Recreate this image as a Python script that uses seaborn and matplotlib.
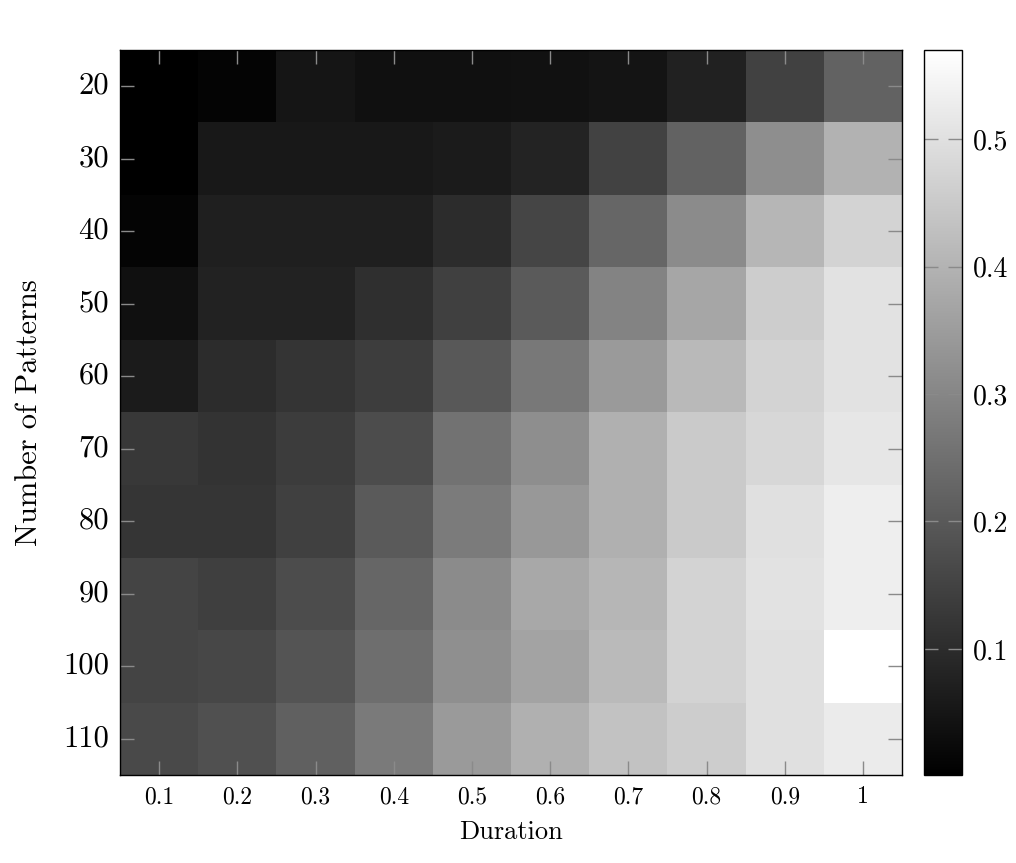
import numpy as np
import pandas as pd
import matplotlib
matplotlib.use("Agg")
import matplotlib.pyplot as plt
import seaborn as sns

durations = ["0.1", "0.2", "0.3", "0.4", "0.5", "0.6", "0.7", "0.8", "0.9", "1"]
patterns = [20, 30, 40, 50, 60, 70, 80, 90, 100, 110]

row_20 = [0.001, 0.010, 0.048, 0.037, 0.037, 0.041, 0.046, 0.075, 0.146, 0.220]
row_30 = [0.001, 0.055, 0.055, 0.055, 0.063, 0.079, 0.148, 0.220, 0.318, 0.398]
row_40 = [0.012, 0.072, 0.072, 0.072, 0.099, 0.155, 0.229, 0.311, 0.407, 0.470]
row_50 = [0.037, 0.077, 0.077, 0.106, 0.144, 0.202, 0.293, 0.371, 0.458, 0.505]
row_60 = [0.063, 0.099, 0.117, 0.137, 0.197, 0.269, 0.345, 0.414, 0.470, 0.505]
row_70 = [0.126, 0.115, 0.135, 0.171, 0.255, 0.318, 0.394, 0.452, 0.481, 0.514]
row_80 = [0.121, 0.121, 0.144, 0.202, 0.275, 0.340, 0.394, 0.452, 0.499, 0.532]
row_90 = [0.153, 0.142, 0.171, 0.229, 0.311, 0.376, 0.407, 0.470, 0.505, 0.532]
row_100 = [0.153, 0.159, 0.188, 0.246, 0.320, 0.365, 0.416, 0.470, 0.499, 0.570]
row_110 = [0.164, 0.180, 0.215, 0.273, 0.345, 0.394, 0.434, 0.458, 0.499, 0.525]

cbar_ticks = [0.1, 0.2, 0.3, 0.4, 0.5]

df = pd.DataFrame([row_20, row_30, row_40, row_50, row_60, row_70, row_80,
                   row_90, row_100, row_110], index=patterns, columns=durations)

plt.rcParams['font.family'] = ['cmr10', 'DejaVu Serif']
plt.rcParams['axes.formatter.use_mathtext'] = True
plt.rcParams['mathtext.fontset'] = 'cm'

fig = plt.figure(figsize=(10.16, 8.63), dpi=100)
ax = fig.add_axes([120/1016, 1 - 775/863, 782/1016, 725/863])
cax = fig.add_axes([924/1016, 1 - 775/863, 38/1016, 725/863])

vmin = float(df.values.min())
vmax = float(df.values.max())
sns.heatmap(df, cmap="gray", vmin=vmin, vmax=vmax, ax=ax, cbar_ax=cax,
            cbar_kws={"ticks": cbar_ticks})

for s in ax.spines.values():
    s.set_visible(True)
    s.set_color("black")
    s.set_linewidth(1.0)

ax.tick_params(axis="both", which="both", direction="in", length=10, width=1,
               color="#8a8a8a", top=True, right=True, pad=8)
ax.tick_params(axis="y", labelsize=22)
ax.tick_params(axis="x", labelsize=17)
ax.set_yticklabels([str(p) for p in patterns], rotation=0)
ax.set_xticklabels(durations, rotation=0)
ax.set_xlabel("Duration", fontsize=19, labelpad=9)
ax.set_ylabel("Number of Patterns", fontsize=22, labelpad=14)

cax.tick_params(direction="in", length=10, width=1, color="#8a8a8a",
                left=True, right=True, labelsize=20, pad=8)
cax.set_yticklabels([f"{t:.1f}" for t in cbar_ticks])
cb = ax.collections[0].colorbar
cb.outline.set_edgecolor("black")
cb.outline.set_linewidth(1.0)

fig.savefig("out.png", dpi=100)
